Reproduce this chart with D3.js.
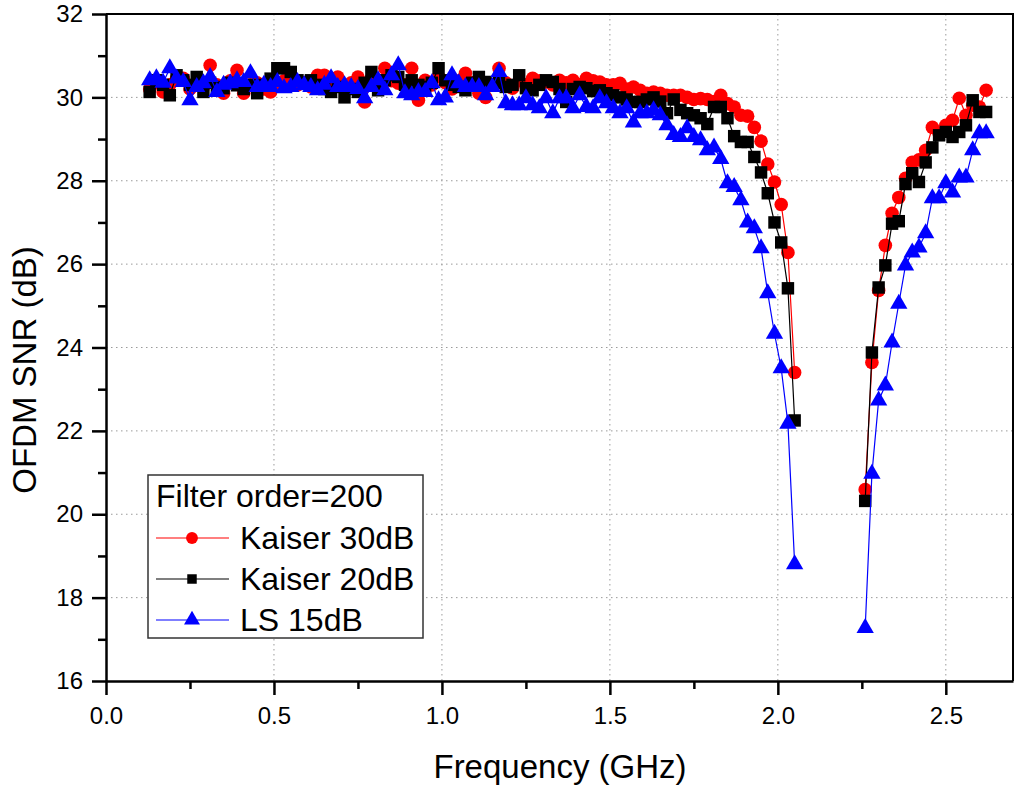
<!DOCTYPE html>
<html>
<head>
<meta charset="utf-8">
<script src="https://cdn.jsdelivr.net/npm/d3@7"></script>
<style>
body { margin: 0; background: #fff; }
text { font-family: "Liberation Sans", Arial, sans-serif; fill: #000; }
</style>
</head>
<body>
<div id="chart"></div>
<script>
// frequency grid (GHz), two measured bands with a gap between them
var freqLeft = [0.13,0.15,0.17,0.19,0.21,0.23,0.25,0.27,0.29,0.31,
	0.33,0.35,0.37,0.39,0.41,0.43,0.45,0.47,0.49,0.51,
	0.53,0.55,0.57,0.59,0.61,0.63,0.65,0.67,0.69,0.71,
	0.73,0.75,0.77,0.79,0.81,0.83,0.85,0.87,0.89,0.91,
	0.93,0.95,0.97,0.99,1.01,1.03,1.05,1.07,1.09,1.11,
	1.13,1.15,1.17,1.19,1.21,1.23,1.25,1.27,1.29,1.31,
	1.33,1.35,1.37,1.39,1.41,1.43,1.45,1.47,1.49,1.51,
	1.53,1.55,1.57,1.59,1.61,1.63,1.65,1.67,1.69,1.71,
	1.73,1.75,1.77,1.79,1.81,1.83,1.85,1.87,1.89,1.91,
	1.93,1.95,1.97,1.99,2.01,2.03,2.05];
var freqRight = [2.26,2.28,2.30,2.32,2.34,2.36,2.38,2.40,2.42,2.44,
	2.46,2.48,2.50,2.52,2.54,2.56,2.58,2.60,2.62];

// Kaiser 30dB
var kaiser30Left = [30.2,30.35,30.13,30.3,30.45,30.46,30.2,30.35,30.25,30.77,
	30.3,30.1,30.4,30.65,30.1,30.3,30.35,30.2,30.13,30.3,
	30.4,30.53,30.3,30.35,30.25,30.53,30.53,30.3,30.49,30.2,
	30.35,30.49,29.89,30.46,30.3,30.7,30.4,30.34,30.3,30.7,
	29.93,30.41,30.3,30.5,30.35,30.2,30.4,30.58,30.35,30.1,
	30.0,30.3,30.7,30.35,30.22,30.4,30.3,30.46,30.4,30.37,
	30.3,30.41,30.35,30.41,30.3,30.46,30.4,30.37,30.3,30.3,
	30.34,30.2,30.25,30.17,30.1,30.13,30.1,30.05,30.05,30.05,
	30.0,29.95,29.97,29.95,29.9,30.05,29.85,29.77,29.57,29.55,
	29.28,28.95,28.4,27.97,27.43,26.28,23.4];
var kaiser30Right = [20.59,23.64,25.37,26.45,27.22,27.6,28.06,28.44,28.5,28.73,
	29.28,29.14,29.33,29.45,29.98,29.57,29.81,29.77,30.17];

// Kaiser 20dB
var kaiser20Left = [30.13,30.41,30.3,30.05,30.53,30.41,30.3,30.49,30.13,30.35,
	30.25,30.22,30.35,30.29,30.2,30.3,30.1,30.3,30.45,30.7,
	30.7,30.61,30.41,30.35,30.41,30.3,30.2,30.13,30.25,30.0,
	30.2,30.13,30.35,30.61,30.17,30.41,30.53,30.49,30.3,30.41,
	30.3,30.25,30.35,30.7,30.41,30.3,30.25,30.17,30.35,30.49,
	30.37,30.3,30.35,30.25,30.3,30.53,30.22,30.17,30.3,30.41,
	30.37,30.2,29.89,30.2,30.25,30.22,30.15,30.17,30.1,30.05,
	30.0,29.95,29.89,29.89,29.95,30.0,29.9,29.62,29.95,29.7,
	29.62,29.57,29.5,29.36,29.77,29.77,29.5,29.07,28.93,28.93,
	28.57,28.2,27.7,27.0,26.52,25.42,22.25];
var kaiser20Right = [20.32,23.88,25.44,25.97,26.97,27.03,27.92,28.18,27.97,28.44,
	28.8,29.09,29.17,29.05,29.17,29.33,29.93,29.65,29.65];

// LS 15dB
var ls15Left = [30.41,30.46,30.35,30.7,30.45,30.37,29.93,30.25,30.34,30.49,
	30.13,30.3,30.34,30.41,30.37,30.58,30.25,30.3,30.25,30.37,
	30.22,30.25,30.37,30.29,30.25,30.17,30.3,30.46,30.25,30.29,
	30.25,30.2,29.98,30.25,30.41,30.17,30.53,30.77,30.1,30.05,
	30.13,30.13,30.34,29.93,30.0,30.53,30.34,30.25,30.25,30.25,
	30.05,30.25,30.61,29.86,29.81,29.81,29.98,29.81,29.74,29.98,
	29.62,29.98,29.98,29.74,30.05,29.77,29.74,29.98,29.86,29.74,
	29.62,29.74,29.4,29.62,29.62,29.69,29.57,29.33,29.1,29.05,
	29.26,29.05,28.97,28.73,28.8,28.52,27.94,27.85,27.53,27.0,
	26.86,26.38,25.3,24.33,23.5,22.17,18.8];
var ls15Right = [17.27,20.97,22.73,23.09,24.12,25.05,25.97,26.28,26.4,26.74,
	27.58,27.58,27.94,27.72,28.08,28.08,28.73,29.14,29.14];

var xMajorTicks = [0.0,0.5,1.0,1.5,2.0,2.5];
var xMinorTicks = [0.25,0.75,1.25,1.75,2.25];
var yMajorTicks = [16,18,20,22,24,26,28,30,32];
var yMinorTicks = [17,19,21,23,25,27,29,31];

var seriesNames = ["Kaiser 30dB","Kaiser 20dB","LS 15dB"];
var seriesColors = ["#ff0000","#000000","#0000ff"];
var legendTitle = "Filter order=200";

var margin = {top: 14, right: 2, bottom: 107, left: 106},
	width = 1015 - margin.left - margin.right,
	height = 788 - margin.top - margin.bottom;

var svg = d3.select("#chart").append("svg")
	.attr("width", 1015)
	.attr("height", 788)
	.append("g")
	.attr("transform", "translate(" + margin.left + "," + margin.top + ")");

var x = d3.scaleLinear().domain([0, 2.7]).range([0, width]);
var y = d3.scaleLinear().domain([16, 32]).range([height, 0]);

// dotted grid
svg.append("g").selectAll("line")
	.data(xMajorTicks.slice(1))
	.enter().append("line")
	.attr("x1", function(d){ return x(d); }).attr("x2", function(d){ return x(d); })
	.attr("y1", 0).attr("y2", height)
	.attr("stroke", "#9a9a9a").attr("stroke-width", 1)
	.attr("stroke-dasharray", "1.5,3.5");
svg.append("g").selectAll("line")
	.data(yMajorTicks.slice(1, -1))
	.enter().append("line")
	.attr("x1", 0).attr("x2", width)
	.attr("y1", function(d){ return y(d); }).attr("y2", function(d){ return y(d); })
	.attr("stroke", "#9a9a9a").attr("stroke-width", 1)
	.attr("stroke-dasharray", "1.5,3.5");

// top and right frame
svg.append("path")
	.attr("d", "M0,0H" + width + "V" + height)
	.attr("fill", "none").attr("stroke", "#000").attr("stroke-width", 2);

// axes
var xAxis = svg.append("g")
	.attr("transform", "translate(0," + height + ")")
	.call(d3.axisBottom(x).tickValues(xMajorTicks).tickSize(14).tickSizeOuter(0).tickPadding(12)
		.tickFormat(d3.format(".1f")));
var xMinor = svg.append("g")
	.attr("transform", "translate(0," + height + ")")
	.call(d3.axisBottom(x).tickValues(xMinorTicks).tickSize(8).tickSizeOuter(0).tickFormat(""));
var yAxis = svg.append("g")
	.call(d3.axisLeft(y).tickValues(yMajorTicks).tickSize(14).tickSizeOuter(0).tickPadding(9));
var yMinor = svg.append("g")
	.call(d3.axisLeft(y).tickValues(yMinorTicks).tickSize(8).tickSizeOuter(0).tickFormat(""));

svg.selectAll(".domain").attr("stroke", "#000").attr("stroke-width", 2.5);
svg.selectAll(".tick line").attr("stroke", "#000").attr("stroke-width", 2.5);
svg.selectAll(".tick text").style("font-size", "24px").attr("fill", "#111");
xMinor.select(".domain").remove();
yMinor.select(".domain").remove();

// axis titles
svg.append("text")
	.attr("x", 560 - margin.left)
	.attr("y", 778 - margin.top)
	.style("text-anchor", "middle")
	.style("font-size", "33px")
	.text("Frequency (GHz)");
svg.append("text")
	.attr("transform", "rotate(-90)")
	.attr("x", -(370 - margin.top))
	.attr("y", 36 - margin.left)
	.style("text-anchor", "middle")
	.style("font-size", "33px")
	.text("OFDM SNR (dB)");

// series
var seriesLeft = [kaiser30Left, kaiser20Left, ls15Left];
var seriesRight = [kaiser30Right, kaiser20Right, ls15Right];
var shapes = [d3.symbolCircle, d3.symbolSquare, d3.symbolTriangle];
var shapeSizes = [145, 155, 130];

var line = d3.line()
	.x(function(d){ return x(d[0]); })
	.y(function(d){ return y(d[1]); });

for (var s = 0; s < 3; s++) {
	var segs = [
		freqLeft.map(function(f, i){ return [f, seriesLeft[s][i]]; }),
		freqRight.map(function(f, i){ return [f, seriesRight[s][i]]; })
	];
	var g = svg.append("g");
	for (var k = 0; k < segs.length; k++) {
		g.append("path")
			.datum(segs[k])
			.attr("d", line)
			.attr("fill", "none")
			.attr("stroke", seriesColors[s])
			.attr("stroke-width", 1.2);
	}
	g.selectAll(".pt")
		.data(segs[0].concat(segs[1]))
		.enter().append("path")
		.attr("class", "pt")
		.attr("transform", function(d){ return "translate(" + x(d[0]) + "," + y(d[1]) + ")"; })
		.attr("d", d3.symbol().type(shapes[s]).size(shapeSizes[s]))
		.attr("fill", seriesColors[s]);
}

// legend
var legend = svg.append("g")
	.attr("transform", "translate(" + (148 - margin.left) + "," + (475 - margin.top) + ")");
legend.append("rect")
	.attr("width", 275).attr("height", 163)
	.attr("fill", "#fff").attr("stroke", "#333").attr("stroke-width", 1.5);
legend.append("text")
	.attr("x", 8).attr("y", 32)
	.style("font-size", "32px")
	.text(legendTitle);
var legendSizes = [110, 90, 110];
seriesNames.forEach(function(name, i) {
	var cy = 63 + i * 41;
	legend.append("line")
		.attr("x1", 8).attr("x2", 81)
		.attr("y1", cy).attr("y2", cy)
		.attr("stroke", seriesColors[i]).attr("stroke-width", 1.2);
	legend.append("path")
		.attr("transform", "translate(44," + cy + ")")
		.attr("d", d3.symbol().type(shapes[i]).size(legendSizes[i]))
		.attr("fill", seriesColors[i]);
	legend.append("text")
		.attr("x", 92).attr("y", cy + 11)
		.style("font-size", "32px")
		.text(name);
});
</script>
</body>
</html>
